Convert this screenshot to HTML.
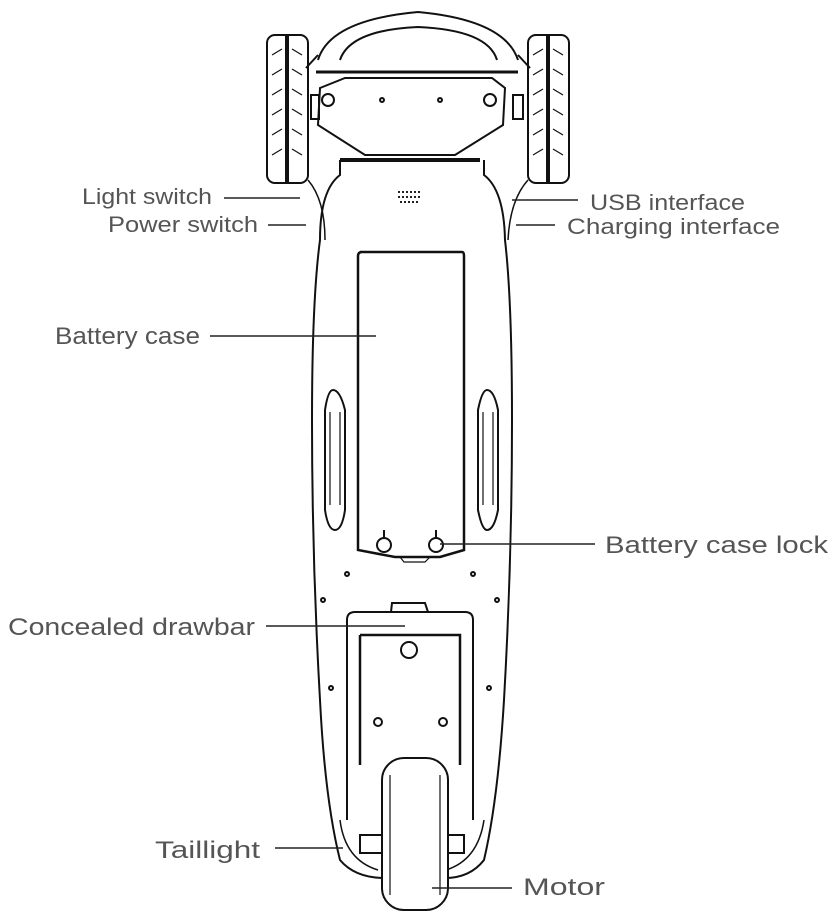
<!DOCTYPE html>
<html><head><style>
html,body{margin:0;padding:0;background:#fff;}
svg{display:block;}
text{font-family:"Liberation Sans",sans-serif;fill:#555;}
</style></head><body>
<svg width="836" height="920" viewBox="0 0 836 920" xmlns="http://www.w3.org/2000/svg">
<g fill="none" stroke="#111" stroke-width="2">
<path d="M318 60 Q330 20 418 12 Q505 20 518 60"/>
<path d="M340 60 Q350 30 418 27 Q488 30 497 60"/>
<path d="M306 68 L318 55 M530 68 L518 55"/>
<rect x="267" y="35" width="41" height="148" rx="8"/>
<line x1="287" y1="35" x2="287" y2="183" stroke-width="4"/>
<rect x="528" y="35" width="41" height="148" rx="8"/>
<line x1="548" y1="35" x2="548" y2="183" stroke-width="4"/>
<g stroke-width="1.2">
<path d="M272 55 l10 -6 M272 75 l10 -6 M272 95 l10 -6 M272 115 l10 -6 M272 135 l10 -6 M272 155 l10 -6 M292 49 l10 6 M292 69 l10 6 M292 89 l10 6 M292 109 l10 6 M292 129 l10 6 M292 149 l10 6"/>
<path d="M533 55 l10 -6 M533 75 l10 -6 M533 95 l10 -6 M533 115 l10 -6 M533 135 l10 -6 M533 155 l10 -6 M553 49 l10 6 M553 69 l10 6 M553 89 l10 6 M553 109 l10 6 M553 129 l10 6 M553 149 l10 6"/>
</g>
<line x1="316" y1="72" x2="518" y2="72" stroke-width="3"/>
<path d="M320 88 L345 78 L492 78 L505 88 L503 125 L455 155 L365 155 L318 125 Z"/>
<line x1="340" y1="160" x2="480" y2="160" stroke-width="4"/>
<circle cx="328" cy="100" r="6"/><circle cx="490" cy="100" r="6"/>
<circle cx="382" cy="100" r="2"/><circle cx="440" cy="100" r="2"/>
<rect x="311" y="95" width="8" height="24"/><rect x="513" y="95" width="10" height="24"/>
<path d="M340 160 L340 175 Q320 190 320 240 Q312 300 312 420 Q312 560 320 700 Q325 800 340 860 Q355 878 385 878"/>
<path d="M484 160 L484 175 Q504 190 505 240 Q512 300 512 420 Q512 560 504 700 Q498 800 484 860 Q470 878 445 878"/>
<path d="M308 180 Q325 200 325 240" stroke-width="1.5"/>
<path d="M528 180 Q510 200 508 240" stroke-width="1.5"/>
<path d="M360 252 L462 252 Q464 252 464 256 L464 550 L440 557 L395 557 L358 550 L358 256 Q358 252 362 252 Z" stroke-width="2.5"/>
<path d="M400 557 L404 562 L425 562 L430 557" stroke-width="1.2"/>
<circle cx="384" cy="545" r="7"/><circle cx="436" cy="545" r="7"/>
<line x1="384" y1="530" x2="384" y2="538"/><line x1="436" y1="530" x2="436" y2="538"/>
<path d="M333 390 Q328 390 325 410 L325 510 Q328 530 335 530 Q342 530 345 510 L345 410 Q340 390 333 390 Z"/>
<path d="M330 412 L330 505 M340 412 L340 505" stroke-width="1.2"/>
<path d="M487 390 Q482 390 478 410 L478 510 Q482 530 487 530 Q494 530 498 510 L498 410 Q494 390 487 390 Z"/>
<path d="M483 412 L483 505 M493 412 L493 505" stroke-width="1.2"/>
<path d="M347 620 Q347 612 355 612 L465 612 Q473 612 473 620 L473 820 M347 620 L347 820"/>
<path d="M360 635 L460 635 L460 765 M360 635 L360 765" stroke-width="2.5"/>
<path d="M391 612 L392 603 L425 603 L428 612"/>
<circle cx="409" cy="650" r="8"/>
<circle cx="378" cy="722" r="4"/><circle cx="443" cy="722" r="4"/>
<circle cx="331" cy="688" r="2"/><circle cx="489" cy="688" r="2"/>
<circle cx="347" cy="574" r="2"/><circle cx="473" cy="574" r="2"/>
<circle cx="323" cy="600" r="2"/><circle cx="497" cy="600" r="2"/>
<rect x="360" y="835" width="22" height="18"/><rect x="442" y="835" width="22" height="18"/>
<path d="M340 820 Q345 860 378 870 M484 820 Q478 860 446 870" stroke-width="1.5"/>
<rect x="382" y="758" width="66" height="152" rx="22" fill="#fff"/>
<path d="M390 775 L390 895 M440 775 L440 895" stroke-width="1.2"/>
</g>
<g stroke="#222" stroke-width="2" stroke-dasharray="2 2"><line x1="398" y1="192" x2="422" y2="192"/><line x1="398" y1="197" x2="422" y2="197"/><line x1="400" y1="202" x2="420" y2="202"/></g>
<g stroke="#222" stroke-width="1.5">
<line x1="224" y1="198" x2="300" y2="198"/>
<line x1="268" y1="225" x2="306" y2="225"/>
<line x1="512" y1="200" x2="578" y2="200"/>
<line x1="516" y1="225" x2="555" y2="225"/>
<line x1="210" y1="336" x2="376" y2="336"/>
<line x1="440" y1="544" x2="595" y2="544"/>
<line x1="266" y1="626" x2="405" y2="626"/>
<line x1="275" y1="848" x2="343" y2="848"/>
<line x1="432" y1="888" x2="512" y2="888"/>
</g>
<g font-size="22">
<text x="82" y="204" textLength="130" lengthAdjust="spacingAndGlyphs">Light switch</text>
<text x="108" y="232" textLength="150" lengthAdjust="spacingAndGlyphs">Power switch</text>
<text x="590" y="210" textLength="155" lengthAdjust="spacingAndGlyphs">USB interface</text>
<text x="567" y="234" textLength="213" lengthAdjust="spacingAndGlyphs">Charging interface</text>
</g>
<g font-size="24">
<text x="55" y="344" textLength="145" lengthAdjust="spacingAndGlyphs">Battery case</text>
<text x="605" y="553" textLength="223" lengthAdjust="spacingAndGlyphs">Battery case lock</text>
<text x="8" y="635" textLength="247" lengthAdjust="spacingAndGlyphs">Concealed drawbar</text>
<text x="155" y="858" textLength="105" lengthAdjust="spacingAndGlyphs">Taillight</text>
<text x="523" y="895" textLength="82" lengthAdjust="spacingAndGlyphs">Motor</text>
</g>
</svg>
</body></html>
